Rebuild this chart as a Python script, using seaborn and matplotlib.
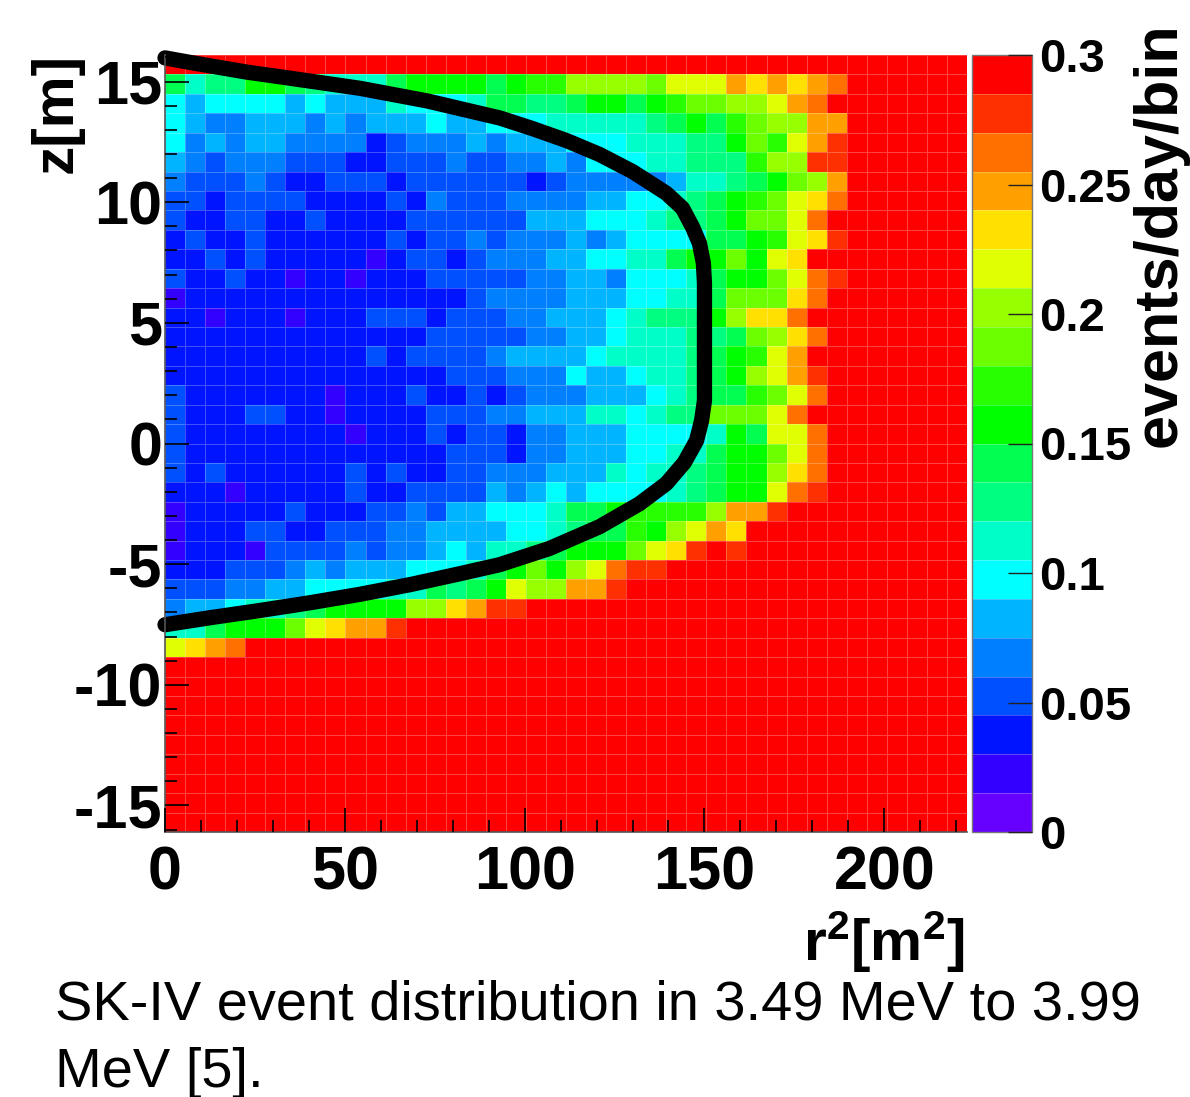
"""SK-IV event distribution, r^2 versus z, with the fiducial boundary on top."""

import matplotlib

matplotlib.use("Agg")
import matplotlib.pyplot as plt
import numpy as np
import seaborn as sns
from matplotlib.colors import ListedColormap
from matplotlib.ticker import FixedLocator

R2_MAX = 223.0
Z_MAX = 16.1
RATE_MAX = 0.3
N_CELLS = 40

# colour bin of every cell (0 = lowest, 19 = at or above 0.3), rows from the top
# of the detector down; cells right of each list are off scale, so bin 19
LEVEL_ROWS = [
    [],
    [9, 7, 8, 8, 10, 10, 9, 8, 7, 7, 7, 9, 10, 10, 10, 10, 9, 10, 11, 11, 13, 13, 13, 13, 12, 14, 14, 14, 16, 15, 16, 15, 16, 17],
    [6, 5, 6, 6, 6, 6, 5, 6, 5, 5, 5, 7, 6, 6, 6, 7, 9, 9, 8, 8, 9, 10, 10, 9, 10, 11, 12, 12, 13, 13, 14, 16, 17],
    [6, 5, 4, 4, 5, 5, 5, 4, 5, 4, 5, 5, 5, 6, 5, 5, 6, 6, 6, 7, 7, 7, 7, 7, 8, 9, 10, 9, 11, 12, 13, 13, 16, 16],
    [6, 4, 5, 4, 5, 5, 4, 4, 4, 4, 2, 3, 4, 4, 4, 5, 4, 5, 5, 5, 6, 6, 6, 7, 7, 7, 8, 8, 10, 12, 11, 14, 16, 18],
    [5, 4, 3, 4, 4, 4, 3, 3, 3, 2, 2, 3, 3, 3, 4, 3, 3, 4, 4, 5, 4, 6, 6, 6, 7, 7, 8, 8, 8, 11, 13, 13, 18, 18],
    [4, 3, 3, 3, 4, 3, 2, 2, 3, 3, 3, 2, 3, 3, 3, 3, 3, 3, 2, 3, 4, 4, 4, 4, 4, 5, 7, 7, 8, 9, 10, 12, 13, 16],
    [3, 3, 2, 3, 3, 3, 3, 2, 2, 2, 2, 3, 2, 4, 3, 3, 3, 4, 4, 4, 4, 5, 5, 6, 6, 7, 8, 9, 10, 11, 12, 14, 15, 17],
    [3, 2, 2, 3, 3, 2, 2, 3, 2, 2, 2, 2, 3, 3, 3, 3, 3, 3, 5, 5, 5, 6, 6, 6, 7, 8, 8, 9, 10, 12, 12, 14, 17],
    [2, 3, 2, 2, 3, 2, 2, 2, 2, 2, 2, 3, 2, 3, 3, 4, 3, 4, 4, 4, 5, 4, 5, 6, 6, 6, 6, 9, 9, 10, 11, 14, 15, 18],
    [2, 2, 3, 2, 3, 2, 2, 2, 2, 2, 1, 2, 3, 3, 2, 3, 4, 4, 4, 5, 5, 6, 6, 7, 7, 9, 10, 10, 12, 10, 14, 15],
    [3, 2, 2, 3, 2, 2, 1, 2, 2, 1, 2, 2, 2, 3, 3, 3, 3, 3, 4, 4, 5, 5, 4, 6, 6, 6, 7, 9, 10, 10, 12, 14, 17, 18],
    [1, 2, 2, 2, 2, 2, 2, 2, 2, 2, 2, 2, 2, 2, 2, 3, 4, 4, 4, 4, 5, 5, 5, 6, 6, 7, 7, 9, 12, 12, 12, 15, 17],
    [2, 2, 1, 2, 2, 2, 1, 2, 2, 2, 3, 3, 3, 2, 3, 3, 3, 4, 4, 5, 5, 5, 6, 7, 8, 8, 8, 10, 13, 15, 15, 17],
    [2, 2, 2, 2, 2, 2, 2, 2, 2, 2, 2, 2, 2, 3, 3, 3, 3, 3, 4, 4, 5, 5, 6, 7, 7, 7, 8, 8, 9, 12, 13, 15, 17],
    [2, 2, 2, 2, 2, 2, 2, 2, 2, 2, 3, 2, 3, 3, 3, 3, 4, 5, 5, 5, 5, 6, 7, 7, 7, 7, 8, 9, 10, 11, 14, 16],
    [2, 2, 2, 2, 2, 2, 2, 2, 2, 2, 2, 2, 2, 2, 3, 3, 3, 4, 4, 4, 6, 5, 5, 6, 7, 7, 8, 9, 10, 13, 14, 16, 18],
    [3, 2, 2, 2, 2, 2, 2, 2, 1, 2, 2, 2, 3, 2, 2, 3, 2, 3, 4, 4, 4, 5, 5, 5, 6, 7, 8, 9, 9, 11, 12, 14, 17],
    [3, 2, 2, 2, 3, 3, 2, 2, 1, 2, 2, 2, 2, 3, 3, 3, 4, 4, 5, 5, 5, 7, 7, 6, 7, 8, 8, 12, 12, 12, 14, 17],
    [3, 2, 2, 2, 2, 2, 2, 2, 2, 1, 2, 2, 2, 3, 2, 3, 3, 2, 4, 4, 5, 5, 5, 6, 6, 6, 6, 7, 10, 9, 14, 14, 17],
    [3, 2, 2, 2, 2, 2, 2, 2, 2, 2, 2, 2, 2, 2, 3, 3, 3, 2, 4, 4, 5, 5, 5, 6, 6, 7, 7, 9, 10, 10, 12, 14, 17],
    [3, 2, 3, 2, 2, 2, 2, 2, 2, 3, 2, 3, 2, 2, 3, 3, 4, 4, 4, 5, 5, 5, 7, 6, 7, 7, 8, 9, 10, 10, 13, 15, 17],
    [2, 2, 2, 1, 2, 2, 2, 2, 2, 3, 2, 2, 3, 3, 3, 3, 5, 4, 5, 6, 5, 6, 6, 6, 6, 7, 8, 9, 10, 10, 14, 17, 18],
    [1, 2, 2, 2, 2, 2, 3, 2, 2, 2, 3, 3, 4, 3, 5, 5, 6, 6, 6, 7, 9, 9, 10, 11, 11, 11, 11, 13, 16, 16, 18],
    [1, 2, 2, 2, 3, 3, 2, 2, 3, 3, 3, 4, 4, 5, 5, 5, 5, 6, 6, 7, 8, 9, 9, 11, 10, 13, 14, 16, 15],
    [1, 2, 2, 2, 1, 3, 3, 3, 3, 4, 3, 4, 4, 5, 6, 5, 7, 7, 8, 9, 10, 10, 10, 12, 14, 15, 18, 19, 18],
    [2, 2, 2, 3, 3, 3, 4, 5, 4, 5, 5, 5, 6, 6, 6, 7, 9, 10, 12, 10, 13, 14, 17, 18, 18],
    [3, 3, 3, 4, 4, 5, 5, 6, 6, 6, 6, 7, 7, 9, 8, 9, 10, 14, 13, 13, 16, 16, 18],
    [4, 5, 5, 6, 7, 7, 8, 9, 10, 10, 10, 10, 13, 13, 15, 16, 18, 18],
    [7, 7, 9, 10, 10, 10, 12, 14, 15, 16, 16, 18],
    [14, 15, 16, 17],
] + [[]] * 9

LEVEL_COLORS = [
    "#6600ff", "#3300ff", "#0014ff", "#0050ff", "#0080ff",
    "#00b4ff", "#00ffff", "#00ffc8", "#00ff80", "#00ff50",
    "#00ff00", "#28ff00", "#6cff00", "#96ff00", "#e0ff00",
    "#ffe000", "#ffa000", "#ff7000", "#ff3000", "#ff0000",
]

# fiducial boundary
BOUNDARY_R2 = [0, 7.8, 22.8, 35.6, 54.2, 72.8, 93.1, 102.2, 111.7, 120.8, 130, 139.4,
               143.9, 146.7, 148.6, 149.7, 150, 150, 150, 150, 149.2, 147.8, 144.4, 139.4,
               131.9, 120.8, 106.9, 93.1, 81.9, 68.1, 54.2, 40.3, 26.4, 12.5, 0]
BOUNDARY_Z = [15.98, 15.77, 15.39, 15.12, 14.72, 14.2, 13.49, 13.05, 12.55, 11.98, 11.27, 10.37,
              9.75, 8.96, 8.3, 7.47, 6.64, 4.15, 2.9, 1.78, 0.95, 0.12, -0.79, -1.66,
              -2.5, -3.45, -4.35, -5.02, -5.4, -5.85, -6.25, -6.6, -6.92, -7.22, -7.51]

R2_TICKS = [0, 50, 100, 150, 200]
Z_TICKS = [15, 10, 5, 0, -5, -10, -15]
RATE_TICKS = [0, 0.05, 0.1, 0.15, 0.2, 0.25, 0.3]
RATE_LABELS = ["0", "0.05", "0.1", "0.15", "0.2", "0.25", "0.3"]

CAPTION = "SK-IV event distribution in 3.49 MeV to 3.99\nMeV [5]."


def r2_to_cell(r2):
    return np.asarray(r2, dtype=float) / R2_MAX * N_CELLS


def z_to_cell(z):
    return (Z_MAX - np.asarray(z, dtype=float)) / (2 * Z_MAX) * N_CELLS


sns.set_theme(style="white")
plt.rcParams["font.family"] = ["Liberation Sans", "DejaVu Sans"]
plt.rcParams["text.color"] = "black"
plt.rcParams["xtick.color"] = "black"
plt.rcParams["ytick.color"] = "black"
plt.rcParams["axes.axisbelow"] = False
plt.rcParams["mathtext.fontset"] = "custom"
plt.rcParams["mathtext.bf"] = "Liberation Sans:bold"
plt.rcParams["mathtext.rm"] = "Liberation Sans:bold"

levels = np.array([row + [19] * (N_CELLS - len(row)) for row in LEVEL_ROWS])
rates = (levels + 0.5) * RATE_MAX / len(LEVEL_COLORS)

W, H = 1190, 1097
fig = plt.figure(figsize=(W / 100, H / 100), dpi=100)
ax = fig.add_axes([165 / W, 1 - 832 / H, 802 / W, 777 / H])
cax = fig.add_axes([972 / W, 1 - 832 / H, 60 / W, 777 / H])

sns.heatmap(rates, ax=ax, cbar_ax=cax, cmap=ListedColormap(LEVEL_COLORS),
            vmin=0, vmax=RATE_MAX, linewidths=0.7, linecolor=(1, 1, 1, 0.26),
            xticklabels=False, yticklabels=False,
            cbar_kws={"drawedges": True})

ax.plot(r2_to_cell(BOUNDARY_R2), z_to_cell(BOUNDARY_Z), color="black", lw=11,
        solid_capstyle="round", solid_joinstyle="round", clip_on=False)

ax.set_xticks(r2_to_cell(R2_TICKS))
ax.set_xticklabels([str(t) for t in R2_TICKS])
ax.set_yticks(z_to_cell(Z_TICKS))
ax.set_yticklabels([str(t) for t in Z_TICKS])
ax.xaxis.set_minor_locator(FixedLocator(r2_to_cell(np.arange(0, 221, 10))))
ax.yaxis.set_minor_locator(FixedLocator(z_to_cell(np.arange(-16, 17, 1))))
ax.tick_params(axis="x", which="major", bottom=True, direction="in", length=17, width=1.2,
               color="black", labelsize=44, pad=10)
ax.tick_params(axis="y", which="major", left=True, direction="in", length=17, width=1.2,
               color="black", labelsize=44, pad=2)
ax.tick_params(axis="both", which="minor", bottom=True, left=True, direction="in",
               length=8.5, width=1.2, color="black")
for lab in ax.get_xticklabels() + ax.get_yticklabels():
    lab.set_fontweight("bold")
for name in ("left", "bottom"):
    ax.spines[name].set_visible(True)
    ax.spines[name].set_color("#555555")
    ax.spines[name].set_linewidth(1.2)

cbar = ax.collections[0].colorbar
cbar.dividers.set_color((1, 1, 1, 0.3))
cbar.dividers.set_linewidth(0.6)
cbar.set_ticks(RATE_TICKS, labels=RATE_LABELS)
cbar.ax.tick_params(axis="y", direction="in", length=17, width=1.0, color="#222222",
                    labelsize=34, pad=5, right=True)
for lab in cbar.ax.get_yticklabels():
    lab.set_fontweight("bold")
cbar.outline.set_visible(True)
cbar.outline.set_edgecolor("#777777")
cbar.outline.set_linewidth(1.0)

fig.text(57 / W, 1 - 113 / H, "z[m]", rotation=90, ha="center", va="center",
         fontsize=42, fontweight="bold")
fig.text(965 / W, 1 - 961 / H, r"$\mathbf{r^{2}[m^{2}]}$", ha="right", va="baseline",
         fontsize=42)
fig.text(1160 / W, 1 - 235 / H, "events/day/bin", rotation=90, ha="center", va="center",
         fontsize=44, fontweight="bold")
fig.text(55 / W, 1 - 1020 / H, CAPTION.split("\n")[0], ha="left", va="baseline", fontsize=40.3)
fig.text(55 / W, 1 - 1087 / H, CAPTION.split("\n")[1], ha="left", va="baseline", fontsize=40.3)

fig.savefig("out.png", dpi=100, facecolor="white")
plt.close(fig)
